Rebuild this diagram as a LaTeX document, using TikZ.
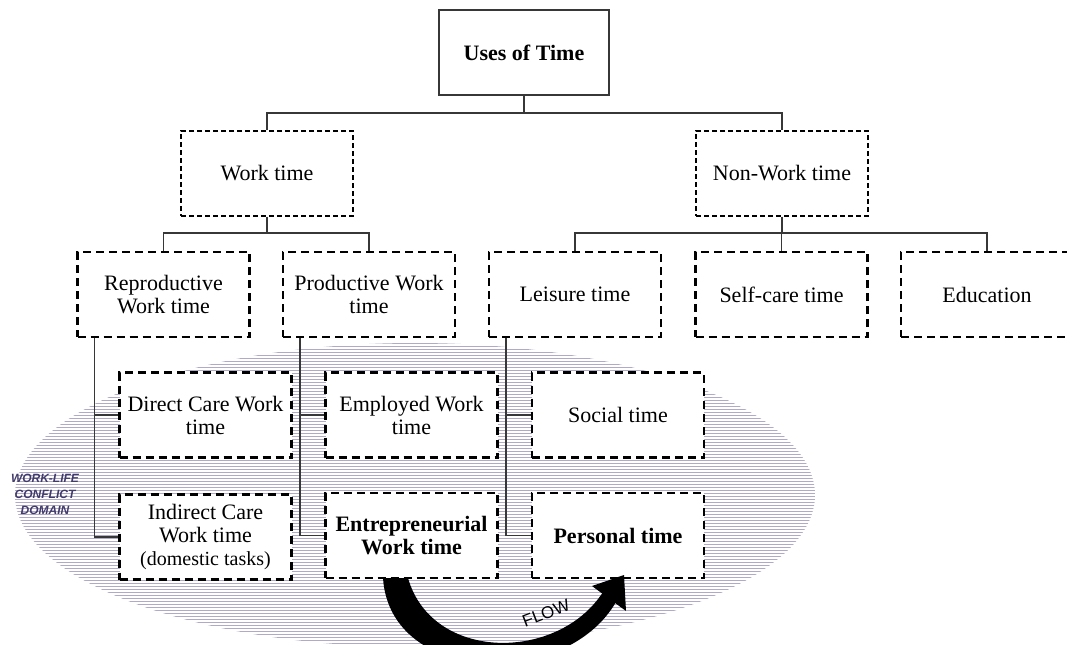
\documentclass[tikz,border=0pt]{standalone}
\usepackage{fontspec}
\setmainfont{Liberation Serif}
\setsansfont{Liberation Sans}
\usetikzlibrary{calc}

\definecolor{hatchcol}{RGB}{176,170,200}
\definecolor{domaincol}{RGB}{66,58,105}
\definecolor{linecol}{RGB}{55,55,55}

\tikzset{
    topbox/.style={draw=linecol, line width=0.8pt, fill=white, minimum width=85pt, minimum height=42.5pt,
        font=\fontsize{11}{12}\selectfont\bfseries},
    workbox/.style={draw, line width=0.6pt, dash pattern=on 2.5pt off 1.5pt, fill=white,
        minimum width=86pt, minimum height=42.5pt, align=center, font=\fontsize{11}{11.5}\selectfont},
    timebox/.style={workbox, line width=1.1pt, dash pattern=on 4pt off 2.5pt},
    conn/.style={draw=linecol, line width=0.6pt},
}

\begin{document}
\begin{tikzpicture}[x=0.5pt, y=-0.5pt]
    \useasboundingbox (0,0) rectangle (1067,644);

    % conflict domain
    \begin{scope}
        \clip (415,495) ellipse [x radius=200pt, y radius=76pt];
        \foreach \y in {340,343,...,650}
            \draw[hatchcol, line width=0.45pt] (0,\y) -- (1067,\y);
    \end{scope}
    \node[align=center, text=domaincol, font=\fontsize{6}{8}\selectfont\sffamily\bfseries\itshape]
        (domain) at (45,494) {WORK-LIFE\\CONFLICT\\DOMAIN};

    \node[topbox] (uses) at (524,52.5) {Uses of Time};
    \node[workbox] (work) at (267,173.5) {Work time};
    \node[workbox] (nonwork) at (782,173.5) {Non-Work time};

    \node[timebox] (repro) at (163.5,294.5) {Reproductive\\Work time};
    \node[timebox] (prod) at (369,294.5) {Productive Work\\time};
    \node[timebox] (leisure) at (575,294.5) {Leisure time};
    \node[timebox] (selfcare) at (781.5,294.5) {Self-care time};
    \node[timebox] (edu) at (987,294.5) {Education};

    \node[timebox] (direct) at (205.5,415) {Direct Care Work\\time};
    \node[timebox] (indirect) at (205.5,537) {Indirect Care\\Work time\\{\fontsize{10}{11}\selectfont(domestic tasks)}};
    \node[timebox] (employed) at (411.5,415) {Employed Work\\time};
    \node[timebox, font=\fontsize{11}{11.5}\selectfont\bfseries] (entre) at (411.5,535.5) {Entrepreneurial\\Work time};
    \node[timebox] (social) at (618,415) {Social time};
    \node[timebox, font=\fontsize{11}{11.5}\selectfont\bfseries] (personal) at (618,535.5) {Personal time};

    % tree
    \coordinate (bar1) at (524,113);
    \coordinate (bar2) at (267,233);
    \coordinate (bar3) at (782,233);
    \draw[conn] (uses.south) -- (bar1);
    \draw[conn] (work.north) |- (bar1) -| (nonwork.north);
    \draw[conn] (work.south) -- (bar2);
    \draw[conn] (repro.north) |- (bar2) -| (prod.north);
    \draw[conn] (nonwork.south) -- (bar3);
    \draw[conn] (leisure.north) |- (bar3) -| (edu.north);
    \draw[conn] (selfcare.north) -- (selfcare.north |- bar3);
    \foreach \p/\a/\b in {repro/direct/indirect, prod/employed/entre, leisure/social/personal} {
        \draw[conn] ($(\p.south west)+(18,0)$) coordinate (spine) |- (\b.west)
            (spine |- \a.west) -- (\a.west);
    }

    % flow
    \fill (383,578) .. controls (390,685) and (565,690) .. (616,602)
        -- (603,592) .. controls (558,662) and (432,662) .. (408,578) -- cycle;
    \fill (592,586) -- (624,575) -- (626,611) -- cycle;
    \node[rotate=21, font=\fontsize{8.5}{9}\selectfont\sffamily] (flow) at (546,613) {FLOW};
\end{tikzpicture}
\end{document}
